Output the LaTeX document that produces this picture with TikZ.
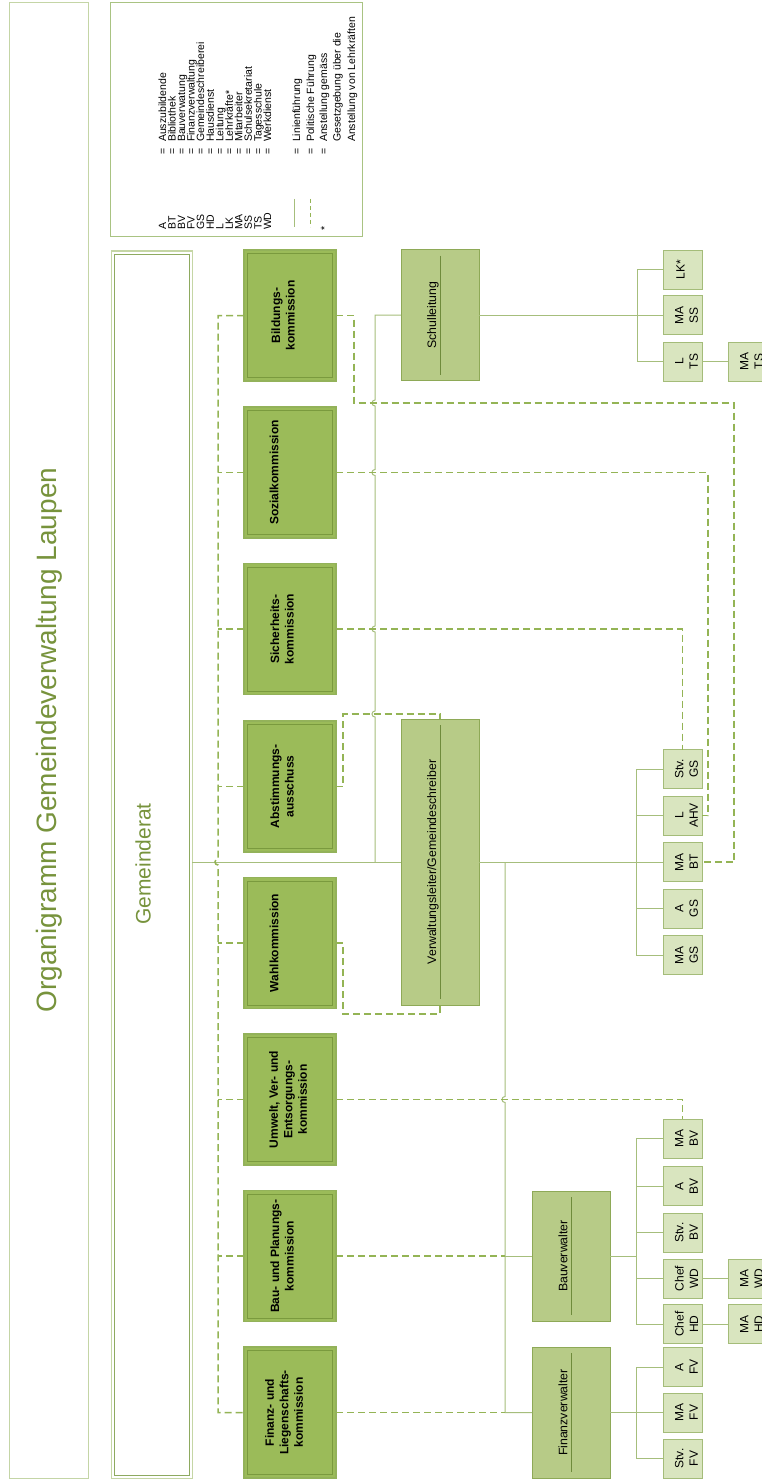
\documentclass[tikz,border=0pt]{standalone}
\usepackage{fontspec}
\setmainfont{Liberation Sans}
\definecolor{cFill}{HTML}{9BBB59}
\definecolor{cBord}{HTML}{93B25A}
\definecolor{cInner}{HTML}{7A9A3E}
\definecolor{cMid}{HTML}{B7CB87}
\definecolor{cMidB}{HTML}{8EA957}
\definecolor{cInl}{HTML}{6F8B3C}
\definecolor{cSm}{HTML}{D9E5BF}
\definecolor{cSmB}{HTML}{A4BC79}
\definecolor{cLine}{HTML}{A6BE7C}
\definecolor{cDash}{HTML}{94B455}
\definecolor{cTitleB}{HTML}{C4D5A6}
\definecolor{cLegB}{HTML}{A9C382}
\definecolor{cGrOut}{HTML}{C5D6A5}
\definecolor{cGrIn}{HTML}{8EAA60}
\definecolor{cTitle}{HTML}{77933C}
\newcommand{\mksmall}[4]{%
  \node[smallbox] (#1) at (#2,#3) {};
  \node[smtext] (#1t) at ([xshift=4pt]#1.center) {#4};}
\begin{document}
\begin{tikzpicture}[x=1pt,y=-1pt,
  every node/.style={inner sep=0pt,outer sep=0pt},
  combox/.style={draw=cBord,fill=cFill,line width=1.2pt,minimum width=92pt,minimum height=131pt},
  midbox/.style={draw=cMidB,fill=cMid,line width=1pt,minimum width=78pt},
  smallbox/.style={draw=cSmB,fill=cSm,line width=0.9pt,minimum width=39pt,minimum height=39pt},
  comtext/.style={rotate=90,align=center,font=\bfseries\fontsize{12}{14.5}\selectfont},
  midtext/.style={rotate=90,font=\fontsize{12.3}{14}\selectfont},
  smtext/.style={rotate=90,align=center,font=\fontsize{12}{14.5}\selectfont},
  legtext/.style={rotate=90,anchor=base west,font=\fontsize{10.5}{12}\selectfont},
  sline/.style={draw=cLine,line width=1pt},
  dline/.style={draw=cDash,line width=1.5pt,dash pattern=on 7pt off 4pt},
  inl/.style={draw=cInl,line width=0.6pt},
]
\useasboundingbox (0,0) rectangle (761,1479);
\fill[white] (0,0) rectangle (761,1479);

% title
\node[draw=cTitleB,line width=1pt,minimum width=79pt,minimum height=1475pt] (titlebox) at (48.5,740.5) {};
\node[rotate=90,text=cTitle,font=\fontsize{28}{34}\selectfont] (title) at (49,740) {Organigramm Gemeindeverwaltung Laupen};

% legend
\node[draw=cLegB,line width=1pt,minimum width=252pt,minimum height=234pt] (legend) at (236,120) {};
\foreach \ab/\me [count=\i from 0] in {A/Auszubildende,BT/Bibliothek,BV/Bauverwatung,FV/Finanzverwaltung,GS/Gemeindeschreiberei,HD/Hausdienst,L/Leitung,LK/Lehrkräfte*,MA/Mitarbeiter,SS/Schulsekretariat,TS/Tagesschule,WD/Werkdienst}{
  \node[legtext] (la\i) at ({166+9.55*\i},230) {\ab};
  \node[legtext] (le\i) at ({166+9.55*\i},155) {=};
  \node[legtext] (lm\i) at ({166+9.55*\i},142) {\me};
}
\draw[sline] (294,199) -- (294,227);
\draw[dline,line width=1pt,dash pattern=on 4pt off 3pt] (310,199) -- (310,227);
\node[legtext] (lstar) at (328,231) {*};
\node[legtext] (le20) at (300,155) {=};
\node[legtext] (le21) at (314,155) {=};
\node[legtext] (le22) at (327,155) {=};
\node[legtext] (lm20) at (300,142) {Linienführung};
\node[legtext] (lm21) at (314,142) {Politische Führung};
\node[legtext] (lm22) at (327,142) {Anstellung gemäss};
\node[legtext] (lm23) at (340.5,142) {Gesetzgebung über die};
\node[legtext] (lm24) at (355,142) {Anstellung von Lehrkräften};

% Gemeinderat
\node[draw=cGrOut,line width=1pt,minimum width=81pt,minimum height=1227pt] (gr) at (151.5,864.5) {};
\draw[cGrIn,line width=0.9pt] ([shift={(3,3)}]gr.north west) rectangle ([shift={(-3,-3)}]gr.south east);
\node[rotate=90,text=cTitle,font=\fontsize{21}{25}\selectfont] (grt) at (143,864) {Gemeinderat};

% commissions
\foreach \n/\y in {k1/315.5,k2/472.5,k3/629,k4/786.5,k5/943,k6/1099.5,k7/1256,k8/1412.5}{
  \node[combox] (\n) at (290,\y) {};
  \draw[cInner,line width=0.7pt] ([shift={(3.5,3.5)}]\n.north west) rectangle ([shift={(-3.5,-3.5)}]\n.south east);
}
\node[comtext] (k1t) at (283,315.5) {Bildungs-\\kommission};
\node[comtext] (k2t) at (274,472.5) {Sozialkommission};
\node[comtext] (k3t) at (282,629) {Sicherheits-\\kommission};
\node[comtext] (k4t) at (282,786.5) {Abstimmungs-\\ausschuss};
\node[comtext] (k5t) at (274,943) {Wahlkommission};
\node[comtext] (k6t) at (288,1099.5) {Umwelt, Ver- und\\Entsorgungs-\\kommission};
\node[comtext] (k7t) at (282,1256) {Bau- und Planungs-\\kommission};
\node[comtext] (k8t) at (284,1412.5) {Finanz- und\\Liegenschafts-\\kommission};

% middle boxes
\node[midbox,minimum height=286pt] (v) at (440,862) {};
\node[midbox,minimum height=131pt] (s) at (440,315) {};
\node[midbox,minimum height=130pt] (bv) at (571,1256) {};
\node[midbox,minimum height=131pt] (fv) at (571,1412.5) {};
\foreach \n in {v,s,bv,fv}{
  \draw[inl] ([yshift=-6pt]\n.north) -- ([yshift=6pt]\n.south);
}
\node[midtext] (vt) at (433,862) {Verwaltungsleiter/Gemeindeschreiber};
\node[midtext] (st) at (433,315) {Schulleitung};
\node[midtext] (bvt) at (563,1256) {Bauverwalter};
\node[midtext] (fvt) at (563,1412.5) {Finanzverwalter};

% small boxes
\node[smallbox] (lk) at (682.5,269.5) {};
\node[smtext] (lkt) at (680.5,269.5) {LK*};
\mksmall{mass}{682.5}{315}{MA\\SS}
\mksmall{lts}{682.5}{361.5}{L\\TS}
\mksmall{mats}{747.5}{361.5}{MA\\TS}
\mksmall{stvgs}{682.5}{769}{Stv.\\GS}
\mksmall{lahv}{682.5}{815.5}{L\\AHV}
\mksmall{mabt}{682.5}{862}{MA\\BT}
\mksmall{ags}{682.5}{908.5}{A\\GS}
\mksmall{mags}{682.5}{955}{MA\\GS}
\mksmall{mabv}{682.5}{1138.5}{MA\\BV}
\mksmall{abv}{682.5}{1186}{A\\BV}
\mksmall{stvbv}{682.5}{1232.5}{Stv.\\BV}
\mksmall{chefwd}{682.5}{1278.5}{Chef\\WD}
\mksmall{chefhd}{682.5}{1324}{Chef\\HD}
\mksmall{mawd}{747.5}{1278.5}{MA\\WD}
\mksmall{mahd}{747.5}{1324}{MA\\HD}
\mksmall{afv}{682.5}{1367}{A\\FV}
\mksmall{mafv}{682.5}{1412.5}{MA\\FV}
\mksmall{stvfv}{682.5}{1458.5}{Stv.\\FV}

% solid lines (Linienfuehrung)
\draw[sline] (gr.east |- v.west) -- (v.west);
\draw[sline] (375,862) -- (375,717) .. controls (371,717) and (371,711) .. (375,711)
  -- (375,632) .. controls (371,632) and (371,626) .. (375,626)
  -- (375,475.5) .. controls (371,475.5) and (371,469.5) .. (375,469.5)
  -- (375,406) .. controls (371,406) and (371,400) .. (375,400)
  -- (375,315) -- (s.west);
\draw[sline] (505,862) -- (505,1096.5) .. controls (501,1096.5) and (501,1102.5) .. (505,1102.5)
  -- (505,1412.5) -- (fv.west);
\draw[sline] (505,1256) -- (bv.west);
\draw[sline] (v.east) -- (mabt.west);
\draw[sline] (stvgs.west) -- ++(-27,0) -- (636,955) -- (mags.west);
\foreach \n in {lahv,ags}{\draw[sline] (\n.west) -- ++(-27,0);}
\draw[sline] (s.east) -- (mass.west);
\draw[sline] (lk.west) -- ++(-26,0) -- (637,361.5) -- (lts.west);
\draw[sline] (lts.east) -- (mats.west);
\draw[sline] (bv.east) -- (636,1256);
\draw[sline] (mabv.west) -- ++(-27,0) -- (636,1324) -- (chefhd.west);
\foreach \n in {abv,stvbv,chefwd}{\draw[sline] (\n.west) -- ++(-27,0);}
\draw[sline] (chefwd.east) -- (mawd.west);
\draw[sline] (chefhd.east) -- (mahd.west);
\draw[sline] (fv.east) -- (mafv.west);
\draw[sline] (afv.west) -- ++(-27,0) -- (636,1458.5) -- (stvfv.west);

% dashed lines (Politische Fuehrung)
\draw[dline] (k1.west) -- (218,315.5) -- (218,859) .. controls (214,859) and (214,865) .. (218,865) -- (218,1412.5) -- (k8.west);
\foreach \n in {k2,k3,k4,k5,k6,k7}{\draw[dline] (\n.west) -- ++(-26,0);}
\draw[dline] (k1.east) -- (354,315.5) -- (354,403) -- (734,403) -- (734,862) -- (mabt.east);
\draw[dline] (k2.east) -- (708,472.5) -- (708,815.5) -- (lahv.east);
\draw[dline] (k3.east) -- (682.5,629) -- (stvgs.north);
\draw[dline] (k4.east) -- (343,786.5) -- (343,714) -- (440,714) -- (v.north);
\draw[dline] (k5.east) -- (343,943) -- (343,1014) -- (440,1014) -- (v.south);
\draw[dline] (k6.east) -- (682.5,1099.5) -- (mabv.north);
\draw[dline] (k7.east) -- (505,1256);
\draw[dline] (k8.east) -- (505,1412.5);
\end{tikzpicture}
\end{document}
